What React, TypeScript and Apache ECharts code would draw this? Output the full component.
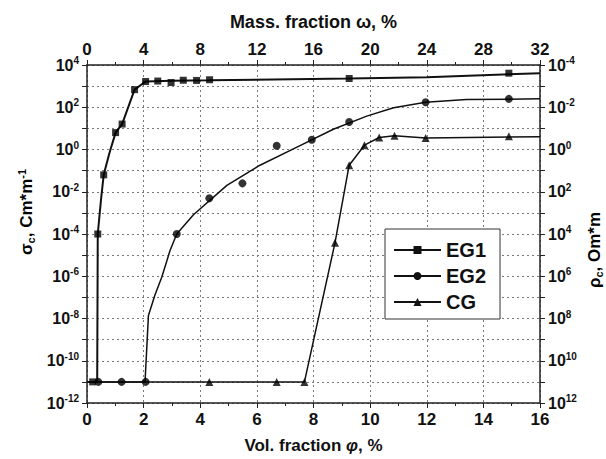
import React, { useEffect, useRef } from 'react';
import * as echarts from 'echarts';

// ---- data (φ in vol.%, σ in S/m) ----
const eg1Phi = [0.2, 0.38, 0.59, 1.01, 1.24, 1.68, 2.07, 2.5, 2.97, 3.4, 3.87, 4.33, 9.26, 14.9];
const eg1Sigma = [1e-11, 1e-4, 6.3e-2, 6.3, 16, 680, 1650, 1740, 1480, 1900, 1860, 2000, 2300, 4100];
const eg1CurvePhi = [0, 0.36, 0.38, 0.5, 0.59, 0.8, 1.01, 1.24, 1.68, 2.07, 3.0, 4.33, 9.26, 12, 16];
const eg1CurveSigma = [1e-11, 1e-11, 1e-4, 5e-3, 6.3e-2, 0.74, 6.3, 16, 680, 1650, 1820, 1900, 2300, 2600, 4100];

const eg2Phi = [0.4, 1.22, 2.07, 3.17, 4.32, 5.49, 6.7, 7.94, 9.26, 11.96, 14.9];
const eg2Sigma = [1e-11, 1e-11, 1e-11, 1e-4, 4.9e-3, 2.5e-2, 1.5, 2.9, 20, 174, 250];
const eg2CurvePhi = [0, 2.05, 2.17, 2.4, 2.64, 2.93, 3.17, 3.76, 4.94, 6.11, 7.29, 8.7, 9.88, 10.83, 11.96, 13.4, 16];
const eg2CurveSigma = [1e-11, 1e-11, 1.4e-8, 1.3e-7, 8.9e-7, 1.6e-5, 1e-4, 8.1e-4, 2e-2, 0.18, 1.07, 9.1, 38, 95, 174, 230, 250];

const cgPhi = [4.32, 6.7, 7.68, 8.76, 9.26, 9.8, 10.32, 10.86, 11.96, 14.9];
const cgSigma = [1e-11, 1e-11, 1e-11, 3.9e-5, 0.18, 1.6, 3.7, 4.5, 3.5, 4.2];
const cgCurvePhi = [0, 7.68, 8.76, 9.26, 9.8, 10.32, 10.86, 11.96, 16];
const cgCurveSigma = [1e-11, 1e-11, 3.9e-5, 0.18, 1.6, 3.7, 4.5, 3.5, 4.0];

const seriesNames = ['EG1', 'EG2', 'CG'];

// axis ranges (decimal exponents)
const sigmaExpMin = -12;
const sigmaExpMax = 4;
const rhoExpMin = -4;
const rhoExpMax = 12;

const FONT = '"Liberation Sans", Arial, sans-serif';
const INK = '#111';

// values are plotted on decimal-exponent scale (log axis)
const zipLog = (xs: number[], ys: number[]) => xs.map((x, i) => [x, Math.log10(ys[i])]);

const supRich = {
  b: { fontSize: 16, fontWeight: 'bold', color: INK, fontFamily: FONT },
  s: { fontSize: 10, fontWeight: 'bold', color: INK, fontFamily: FONT, padding: [0, 0, 9, 0] },
};

const powLabel = (v: number) => {
  const e = Math.round(v);
  return e % 2 === 0 ? `{b|10}{s|${e}}` : '';
};

const gridLine = { show: true, lineStyle: { color: '#7a7a7a', type: [2, 3] as any, width: 1 } };
const axisLineStyle = { color: '#222', width: 1.5 };

export default function App() {
  const ref = useRef<HTMLDivElement>(null);
  useEffect(() => {
    const chart = echarts.init(ref.current!, null, { renderer: 'svg' });
    const nameRich = {
      a: { fontSize: 17, fontWeight: 'bold', color: INK, fontFamily: FONT },
      i: { fontSize: 17, fontWeight: 'bold', fontStyle: 'italic', color: INK, fontFamily: FONT },
      sub: { fontSize: 11, fontWeight: 'bold', color: INK, fontFamily: FONT, padding: [9, 0, 0, 0] },
      sup: { fontSize: 11, fontWeight: 'bold', color: INK, fontFamily: FONT, padding: [0, 0, 9, 0] },
    };
    const option: any = {
      animation: false,
      backgroundColor: '#fff',
      grid: { left: 87, right: 66, top: 65, bottom: 51, containLabel: false },
      xAxis: [
        {
          type: 'value', min: 0, max: 16, interval: 2, position: 'bottom',
          axisLine: { show: true, onZero: false, lineStyle: axisLineStyle },
          axisTick: { show: true, length: 5, lineStyle: { color: '#222' } },
          minorTick: { show: true, splitNumber: 2, length: 3, lineStyle: { color: '#222' } },
          axisLabel: { fontSize: 17, fontWeight: 'bold', color: INK, fontFamily: FONT, margin: 8 },
          splitLine: gridLine,
          name: '{a|Vol. fraction }{i|φ}{a|, %}', nameLocation: 'middle', nameGap: 34,
          nameTextStyle: { rich: nameRich },
        },
        {
          type: 'value', min: 0, max: 32, interval: 4, position: 'top',
          axisLine: { show: true, onZero: false, lineStyle: axisLineStyle },
          axisTick: { show: true, length: 5, lineStyle: { color: '#222' } },
          minorTick: { show: true, splitNumber: 2, length: 3, lineStyle: { color: '#222' } },
          axisLabel: { fontSize: 17, fontWeight: 'bold', color: INK, fontFamily: FONT, margin: 7 },
          splitLine: { show: false },
          name: 'Mass. fraction ω, %', nameLocation: 'middle', nameGap: 34,
          nameTextStyle: { fontSize: 18, fontWeight: 'bold', color: INK, fontFamily: FONT },
        },
      ],
      yAxis: [
        {
          type: 'value', min: sigmaExpMin, max: sigmaExpMax, interval: 1, position: 'left',
          axisLine: { show: true, onZero: false, lineStyle: axisLineStyle },
          axisTick: { show: true, length: 5, lineStyle: { color: '#222' } },
          axisLabel: { formatter: powLabel, rich: supRich, margin: 8 },
          splitLine: gridLine,
        },
        {
          type: 'value', min: rhoExpMin, max: rhoExpMax, interval: 1, inverse: true, position: 'right',
          axisLine: { show: true, onZero: false, lineStyle: axisLineStyle },
          axisTick: { show: true, length: 5, lineStyle: { color: '#222' } },
          axisLabel: { formatter: powLabel, rich: supRich, margin: 8 },
          splitLine: { show: false },
        },
      ],
      legend: {
        data: seriesNames,
        orient: 'vertical', left: 385, top: 229,
        padding: [11, 14, 7, 8],
        itemWidth: 47, itemHeight: 10, itemGap: 6,
        backgroundColor: '#fff', borderColor: '#333', borderWidth: 1, borderRadius: 0,
        selectedMode: false,
        textStyle: { fontSize: 20, fontWeight: 'bold', color: INK, fontFamily: FONT, lineHeight: 20 },
      },
      series: [
        { name: 'EG1', type: 'line', data: zipLog(eg1CurvePhi, eg1CurveSigma), symbol: 'rect', showSymbol: false,
          lineStyle: { color: INK, width: 2 }, itemStyle: { color: INK }, z: 3 },
        { name: 'EG2', type: 'line', data: zipLog(eg2CurvePhi, eg2CurveSigma), symbol: 'circle', showSymbol: false,
          lineStyle: { color: INK, width: 1.5 }, itemStyle: { color: INK }, z: 3 },
        { name: 'CG', type: 'line', data: zipLog(cgCurvePhi, cgCurveSigma), symbol: 'triangle', showSymbol: false,
          lineStyle: { color: INK, width: 1.5 }, itemStyle: { color: INK }, z: 3 },
        { name: 'EG1 pts', type: 'scatter', data: zipLog(eg1Phi, eg1Sigma), symbol: 'rect', symbolSize: 7,
          itemStyle: { color: '#000' }, z: 4 },
        { name: 'EG2 pts', type: 'scatter', data: zipLog(eg2Phi, eg2Sigma), symbol: 'circle', symbolSize: 8,
          itemStyle: { color: '#000' }, z: 4 },
        { name: 'CG pts', type: 'scatter', data: zipLog(cgPhi, cgSigma), symbol: 'triangle', symbolSize: 8,
          itemStyle: { color: '#000' }, z: 4 },
      ],
      graphic: [
        {
          type: 'text', x: 26, y: 212, rotation: Math.PI / 2,
          style: {
            text: '{a|σ}{sub|c}{a|, Cm*m}{sup|-1}', rich: nameRich,
            align: 'center', verticalAlign: 'middle',
          },
        },
        {
          type: 'text', x: 594, y: 250, rotation: Math.PI / 2,
          style: {
            text: '{a|ρ}{sub|c}{a|, Om*m}', rich: nameRich,
            align: 'center', verticalAlign: 'middle',
          },
        },
      ],
    };
    chart.setOption(option);
    return () => chart.dispose();
  }, []);
  return <div ref={ref} style={{ position: 'fixed', left: 0, top: 0, width: 606, height: 459 }} />;
}
